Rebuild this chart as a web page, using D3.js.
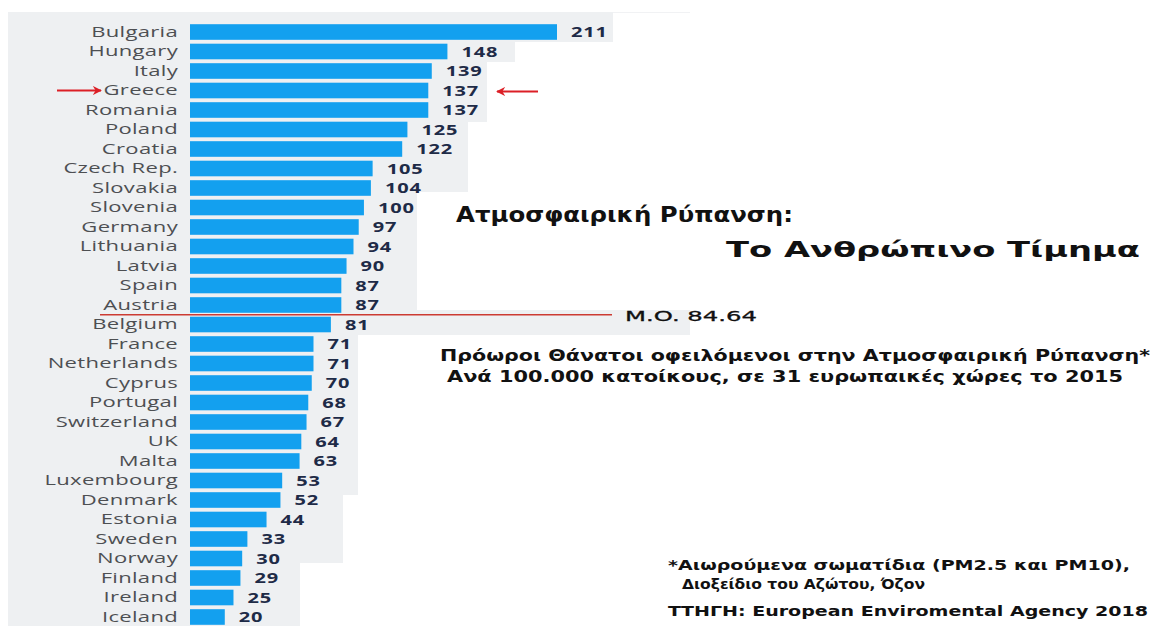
<!DOCTYPE html>
<html><head><meta charset="utf-8">
<script src="https://cdn.jsdelivr.net/npm/d3@7"></script>
<style>html,body{margin:0;padding:0;background:#fff;}svg{display:block;}</style>
</head><body>
<script>
const countries = ["Bulgaria","Hungary","Italy","Greece","Romania","Poland","Croatia","Czech Rep.","Slovakia","Slovenia","Germany","Lithuania","Latvia","Spain","Austria","Belgium","France","Netherlands","Cyprus","Portugal","Switzerland","UK","Malta","Luxembourg","Denmark","Estonia","Sweden","Norway","Finland","Ireland","Iceland"];
const values = [211,148,139,137,137,125,122,105,104,100,97,94,90,87,87,81,71,71,70,68,67,64,63,53,52,44,33,30,29,25,20];
const average = 84.64;
const averageLabel = "M.O. 84.64";
const highlighted = "Greece";
const titleLines = ["Ατμοσφαιρική Ρύπανση:", "Το Ανθρώπινο Τίμημα"];
const subtitleLines = ["Πρόωροι Θάνατοι οφειλόμενοι στην Ατμοσφαιρική Ρύπανση*", "Ανά 100.000 κατοίκους, σε 31 ευρωπαικές χώρες το 2015"];
const footnoteLines = ["*Αιωρούμενα σωματίδια (PM2.5 και PM10),", "Διοξείδιο του Αζώτου, Όζον"];
const sourceLine = "ΤΤΗΓΗ: European Enviromental Agency 2018";

const W = 1152, H = 626;
const svg = d3.select("body").append("svg").attr("width", W).attr("height", H);

// background panel (stepped light gray collage)
const bgPts = [[8,12],[613,12],[613,42],[515,42],[515,62],[487,62],[487,122],[468,122],[468,192],[417,192],[417,310],[690,310],[690,335],[358,335],[358,495],[343,495],[343,563],[300,563],[300,626],[8,626]];
svg.append("path").attr("d", d3.line()(bgPts) + "Z").attr("fill", "#eef0f2");
svg.append("line").attr("x1", 613).attr("x2", 690).attr("y1", 12.5).attr("y2", 12.5).attr("stroke", "#f1f2f4");

const x = d3.scaleLinear().domain([0, 211]).range([190, 557]);
const y = d3.scaleBand().domain(countries).range([22.25, 626.75]).paddingInner(0.2).paddingOuter(0.1);

const data = countries.map((c, i) => ({c, v: values[i]}));

svg.append("g").selectAll("rect").data(data).join("rect")
  .attr("x", x(0)).attr("y", d => y(d.c))
  .attr("width", d => x(d.v) - x(0)).attr("height", y.bandwidth())
  .attr("fill", "#13a0ef");

// image was stretched horizontally: reproduce with scaleX on texts
const sxLab = 1.52, sxVal = 1.38;
const yAxis = d3.axisLeft(y).tickSize(0).tickPadding(0);
const ga = svg.append("g").attr("transform", `translate(${x(0)},0)`).call(yAxis);
ga.select(".domain").remove();
ga.selectAll("text").attr("font-family", "'Open Sans', sans-serif").attr("font-size", 14.5)
  .attr("fill", "#4d4f52").attr("dy", "0.34em").attr("letter-spacing", 0.2)
  .attr("x", -12 / sxLab).attr("transform", `scale(${sxLab},1)`);

svg.append("g").selectAll("text").data(data).join("text")
  .attr("transform", d => `translate(${x(d.v) + 14},${y(d.c) + y.bandwidth() / 2}) scale(${sxVal},1)`)
  .attr("dy", "0.36em")
  .attr("font-family", "'Open Sans', sans-serif").attr("font-weight", 700).attr("font-size", 14.5)
  .attr("letter-spacing", 0.6)
  .attr("fill", "#1e2b47").text(d => d.v);

// average line
const avgY = (y("Austria") + y.bandwidth() + y("Belgium")) / 2;
svg.append("line").attr("x1", 100).attr("x2", 612).attr("y1", avgY).attr("y2", avgY)
  .attr("stroke", "#cc3b33").attr("stroke-width", 1.3);

const greek = "'DejaVu Sans', sans-serif";
function txt(s, xx, yy, size, len) {
  return svg.append("text").attr("x", xx).attr("y", yy).attr("font-family", greek)
    .attr("font-weight", 700).attr("font-size", size).attr("fill", "#111")
    .attr("textLength", len).attr("lengthAdjust", "spacingAndGlyphs").text(s);
}
txt(averageLabel, 625, avgY + 6, 14, 132).attr("font-weight", 400).attr("stroke", "#111").attr("stroke-width", 0.3);

// arrows
const gy = y(highlighted) + y.bandwidth() / 2;
svg.append("defs").append("marker").attr("id", "ah").attr("viewBox", "0 0 10 10")
  .attr("refX", 9).attr("refY", 5).attr("markerWidth", 5).attr("markerHeight", 5)
  .attr("orient", "auto-start-reverse")
  .append("path").attr("d", "M0,0L10,5L0,10L3,5Z").attr("fill", "#dc1f26");
svg.append("line").attr("x1", 57).attr("x2", 101).attr("y1", gy).attr("y2", gy)
  .attr("stroke", "#dc1f26").attr("stroke-width", 1.8).attr("marker-end", "url(#ah)");
svg.append("line").attr("x1", 538).attr("x2", 497).attr("y1", gy + 1).attr("y2", gy + 1)
  .attr("stroke", "#dc1f26").attr("stroke-width", 1.8).attr("marker-end", "url(#ah)");

// titles
txt(titleLines[0], 456, 222, 22, 337);
txt(titleLines[1], 726, 257, 22, 414);
txt(subtitleLines[0], 440, 361, 16, 710);
txt(subtitleLines[1], 447, 382, 16, 676);
txt(footnoteLines[0], 668, 570, 14, 462);
txt(footnoteLines[1], 682, 589, 14, 243);
txt(sourceLine, 668, 616, 14, 480);
</script>
</body></html>
